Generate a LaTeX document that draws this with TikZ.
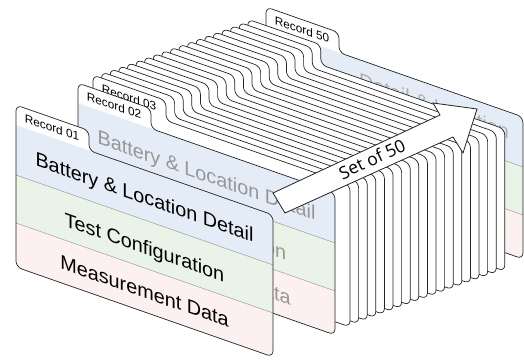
\documentclass[tikz,border=0pt]{standalone}
\usepackage{fontspec}
\setmainfont{Liberation Sans}
\newfontfamily\arrowfont{Open Sans}
\definecolor{bandblue}{RGB}{227,236,247}
\definecolor{bandgreen}{RGB}{233,243,231}
\definecolor{bandpink}{RGB}{252,240,241}
\definecolor{sepgray}{RGB}{140,140,140}
\definecolor{fadetext}{RGB}{150,150,150}
\definecolor{fadetextb}{RGB}{175,175,175}
\definecolor{outlinec}{RGB}{35,35,35}
\def\cardshp{[rounded corners=6pt] (0,20) -- (0,-20) -- (73,-20) -- (73,0) -- (257,0) -- (257,142) -- (0,142) -- cycle}
\newcommand\bandfill{%
  \fill[white] \cardshp;
  \begin{scope}
    \clip \cardshp;
    \fill[bandblue] (0,0) rectangle (257,50);
    \fill[bandgreen] (0,50) rectangle (257,98);
    \fill[bandpink] (0,98) rectangle (257,142);
  \end{scope}
  \draw[sepgray, line width=0.4pt] (0,50) -- (257,50) (0,98) -- (257,98);
  \draw[outl] \cardshp;}
\begin{document}
\begin{tikzpicture}[x=1pt,y=-1pt,
  cardtext/.style={font=\fontsize{19.8}{20}\selectfont, anchor=base, transform shape, inner sep=0pt},
  tabtext/.style={font=\fontsize{11.8}{12}\selectfont, anchor=base, transform shape, inner sep=0pt},
  outl/.style={draw=outlinec, line width=0.7pt}]
\useasboundingbox (0,0) rectangle (524,363);
% card 50 (back)
\begin{scope}[shift={(266,27)}, yslant=-0.35]
  \bandfill
  \node[tabtext] (t50) at (36,-6) {Record 50};
  \node[cardtext, text=fadetextb] (c50a) at (168,27) {Detail \& Location};
\end{scope}
% intermediate white cards
\foreach \i in {18,17,...,0} {
  \begin{scope}[shift={({93+8.6*\i},{95-3.1*\i})}, yslant=-0.35]
    \fill[white] \cardshp;
    \draw[outl] \cardshp;
  \end{scope}
}
\begin{scope}[shift={(93,95)}, yslant=-0.35]
  \node[tabtext] (t03) at (36,-6) {Record 03};
\end{scope}
% card 2
\begin{scope}[shift={(78,103)}, yslant=-0.35]
  \bandfill
  \node[tabtext] (t02) at (36,-6) {Record 02};
  \node[cardtext, text=fadetext] (c02a) at (128.5,34) {Battery \& Location Detail};
  \node[cardtext, text=fadetext] (c02b) at (128.5,84) {Test Configuration};
  \node[cardtext, text=fadetext] (c02c) at (128.5,128) {Measurement Data};
\end{scope}
% card 1 (front)
\begin{scope}[shift={(16,125)}, yslant=-0.35]
  \bandfill
  \node[tabtext] (t01) at (36,-6) {Record 01};
  \node[cardtext] (c01a) at (128.5,34) {Battery \& Location Detail};
  \node[cardtext] (c01b) at (128.5,84) {Test Configuration};
  \node[cardtext] (c01c) at (128.5,128) {Measurement Data};
\end{scope}
% arrow
\draw[fill=white, draw=outlinec, line width=0.8pt, line join=miter]
  (285,213) -- (273,193) -- (440,115) -- (433,103) -- (477,109) -- (463,153) -- (453,137) -- cycle;
\node[rotate=25, font=\arrowfont\fontsize{17.5}{18}\selectfont, inner sep=0pt] (setlabel) at (372,159) {Set of 50};
\end{tikzpicture}
\end{document}
